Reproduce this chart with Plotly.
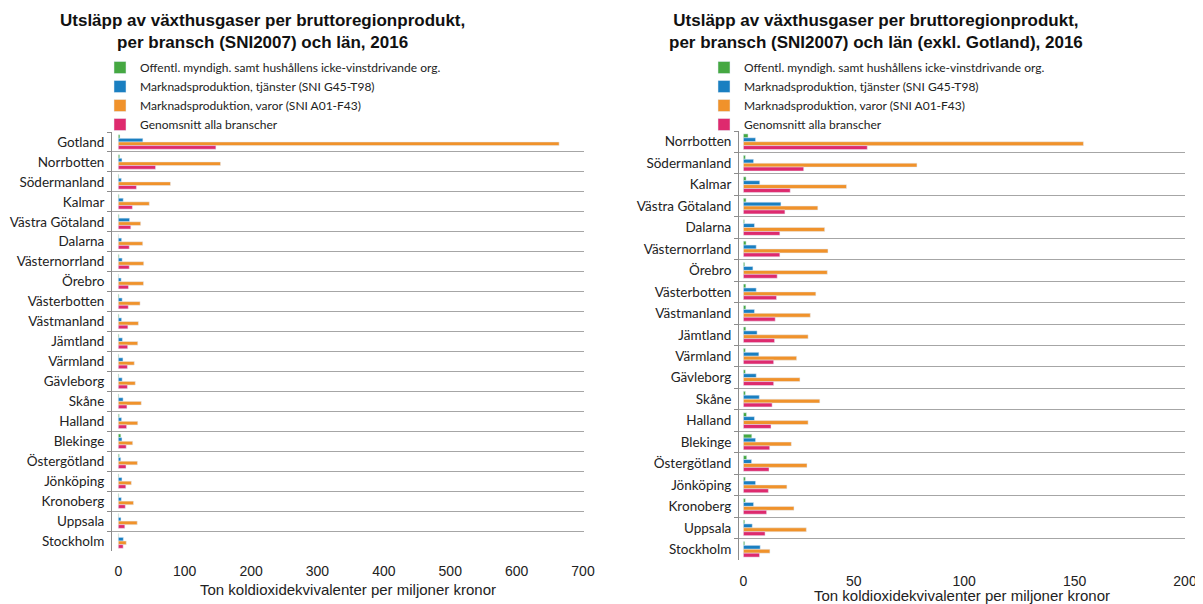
import plotly.graph_objects as go

regions = ["Gotland", "Norrbotten", "Södermanland", "Kalmar", "Västra Götaland", "Dalarna",
           "Västernorrland", "Örebro", "Västerbotten", "Västmanland", "Jämtland", "Värmland",
           "Gävleborg", "Skåne", "Halland", "Blekinge", "Östergötland", "Jönköping",
           "Kronoberg", "Uppsala", "Stockholm"]

offentl = [2.4, 2.1, 0.9, 1.2, 1.2, 0.5, 1.2, 0.6, 1.1, 1.1, 1.1, 0.9, 0.9, 0.9, 1.4, 3.8, 1.5, 0.9, 0.9, 0.6, 0.6]
tjanster = [37.0, 5.5, 4.6, 7.4, 17.0, 5.0, 5.8, 4.3, 5.8, 5.0, 6.2, 7.0, 5.8, 7.2, 5.0, 5.5, 3.7, 5.5, 4.6, 4.0, 7.6]
varor = [664.0, 154.0, 78.6, 46.7, 33.7, 36.8, 38.3, 38.0, 32.8, 30.3, 29.3, 24.1, 25.6, 34.6, 29.3, 21.7, 28.8, 19.7, 22.9, 28.5, 12.0]
genomsnitt = [147.0, 56.1, 27.3, 21.2, 18.8, 16.5, 16.5, 15.3, 15.0, 14.4, 14.1, 13.7, 13.7, 13.0, 12.5, 11.9, 11.6, 11.3, 10.5, 9.8, 7.3]

series_names = ["Offentl. myndigh. samt hushållens icke-vinstdrivande org.",
                "Marknadsproduktion, tjänster (SNI G45-T98)",
                "Marknadsproduktion, varor (SNI A01-F43)",
                "Genomsnitt alla branscher"]
series_values = [offentl, tjanster, varor, genomsnitt]
colors = ["#45a842", "#1a7fc1", "#f0922b", "#de2a6e"]

left_ticks = [0, 100, 200, 300, 400, 500, 600, 700]
right_ticks = [0, 50, 100, 150, 200]

title_left = "Utsläpp av växthusgaser per bruttoregionprodukt,<br>per bransch (SNI2007) och län, 2016"
title_right = "Utsläpp av växthusgaser per bruttoregionprodukt,<br>per bransch (SNI2007) och län (exkl. Gotland), 2016"
x_title = "Ton koldioxidekvivalenter per miljoner kronor"

OFF = 8  # page body margin
W, H = 1203 - OFF, 604 - OFF
fig = go.Figure()

excl = [i for i, r in enumerate(regions) if r != "Gotland"]
for name, vals, col in zip(series_names, series_values, colors):
    fig.add_trace(go.Bar(x=vals, y=regions, orientation="h", name=name, marker_color=col,
                         xaxis="x", yaxis="y", legend="legend"))
for name, vals, col in zip(series_names, series_values, colors):
    fig.add_trace(go.Bar(x=[vals[i] for i in excl], y=[regions[i] for i in excl], orientation="h",
                         name=name, marker_color=col, xaxis="x2", yaxis="y2", legend="legend2"))


def px_x(p):
    return (p - OFF) / W


def px_y(p):
    return 1 - (p - OFF) / H


grid = "#a6a6a6"
arial = "Liberation Sans, Arial, sans-serif"
tick_font = dict(family=arial, size=14, color="#222")
cat_font = dict(family="Lato, sans-serif", size=13.5, color="#222")

common_y = dict(type="category", autorange="reversed", tickson="boundaries", showgrid=True,
                gridcolor=grid, gridwidth=1, showline=True, linecolor="#8c8c8c", ticks="outside",
                ticklen=4, tickcolor="#8c8c8c", tickfont=cat_font, automargin=False,
                ticklabelstandoff=4)
common_x = dict(showgrid=False, zeroline=False, showline=False, ticks="", tickfont=tick_font,
                automargin=False, title_font=dict(family=arial, size=15, color="#222"))

leg_font = dict(family="Lato, sans-serif", size=12, color="#222")

fig.update_layout(
    width=W, height=H,
    margin=dict(l=0, r=0, t=0, b=0),
    paper_bgcolor="white", plot_bgcolor="white",
    barmode="group", bargap=0.27, bargroupgap=0,
    showlegend=True,
    xaxis=dict(domain=[px_x(112), px_x(584)], range=[-9.5, 701.5], tickvals=left_ticks,
               anchor="y", ticklabelstandoff=10, title=dict(text=x_title, standoff=6), **common_x),
    yaxis=dict(domain=[px_y(551), px_y(132)], anchor="x", **common_y),
    xaxis2=dict(domain=[px_x(739), px_x(1185)], range=[-2, 200], tickvals=right_ticks,
                anchor="y2", ticklabelstandoff=11, title=dict(text=x_title, standoff=1), **common_x),
    yaxis2=dict(domain=[px_y(560), px_y(131)], anchor="x2", **common_y),
    legend=dict(x=px_x(100), y=px_y(53), xanchor="left", yanchor="top", tracegroupgap=0,
                font=leg_font, bgcolor="rgba(0,0,0,0)", itemwidth=30),
    legend2=dict(x=px_x(704), y=px_y(53), xanchor="left", yanchor="top", tracegroupgap=0,
                 font=leg_font, bgcolor="rgba(0,0,0,0)", itemwidth=30),
    annotations=[
        dict(text="<b>" + title_left + "</b>", x=px_x(262), y=px_y(9), xref="paper", yref="paper",
             xanchor="center", yanchor="top", showarrow=False,
             font=dict(family=arial, size=17, color="#111")),
        dict(text="<b>" + title_right + "</b>", x=px_x(876), y=px_y(9), xref="paper", yref="paper",
             xanchor="center", yanchor="top", showarrow=False,
             font=dict(family=arial, size=17, color="#111")),
    ],
)

fig.write_html("out.html")
